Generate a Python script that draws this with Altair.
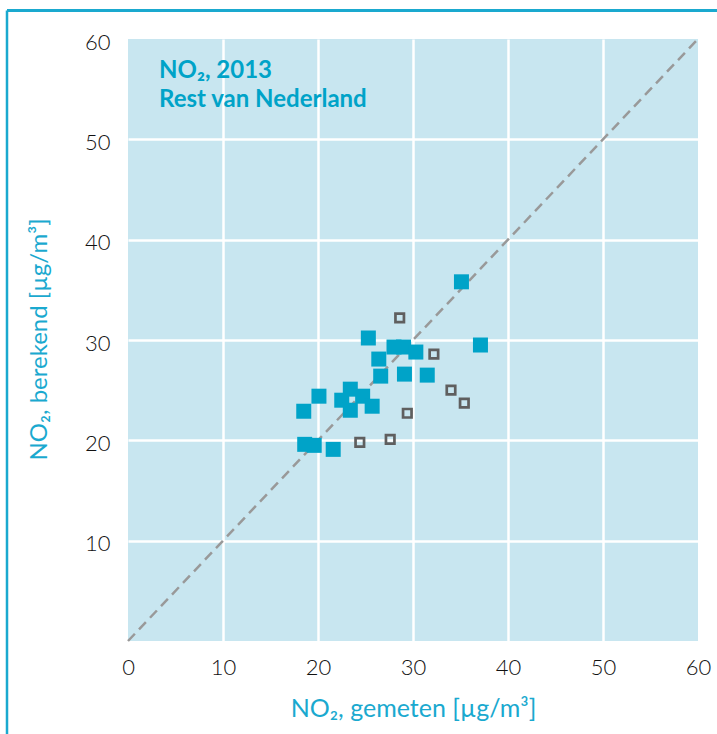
import altair as alt
import pandas as pd

# Measured (gemeten) vs. modelled (berekend) NO2, µg/m3
meas_filled = [35.1, 37.1, 25.3, 28.0, 29.0, 30.3, 26.4, 26.6, 29.1, 31.5,
               23.4, 22.5, 24.7, 23.4, 25.7, 20.1, 18.5, 18.6, 19.6, 21.6]
calc_filled = [35.8, 29.5, 30.2, 29.3, 29.3, 28.8, 28.1, 26.4, 26.6, 26.5,
               25.1, 24.0, 24.4, 23.0, 23.4, 24.4, 22.9, 19.6, 19.5, 19.1]

meas_open = [28.6, 32.2, 34.0, 35.4, 29.4, 24.4, 27.6]
calc_open = [32.2, 28.6, 25.0, 23.7, 22.7, 19.8, 20.1]

diag = [0, 60]
x_ticks = [0, 10, 20, 30, 40, 50, 60]
y_ticks = [10, 20, 30, 40, 50, 60]
title_line1 = "NO\u2082, 2013"
title_line2 = "Rest van Nederland"

TEAL = "#00a3c8"
TEAL_LIGHT = "#1aa9cf"
FONT = "Lato"

filled = pd.DataFrame({"x": meas_filled, "y": calc_filled})
opened = pd.DataFrame({"x": meas_open, "y": calc_open})
line_df = pd.DataFrame({"x": diag, "y": diag})

hide_edges = {"condition": {"test": "datum.value === 0 || datum.value === 60", "value": 0}, "value": 1}

xs = alt.Scale(domain=[0, 60], nice=False, zero=True)
ys = alt.Scale(domain=[0, 60], nice=False, zero=True)

x_axis = alt.Axis(values=x_ticks, title="NO\u2082, gemeten [\u00b5g/m\u00b3]", grid=True,
                  gridColor="white", gridWidth=2.5, gridOpacity=hide_edges,
                  domain=False, ticks=False, labelPadding=16, labelFontSize=22,
                  labelFont=FONT, labelFontWeight=300, labelColor="#111111",
                  labelFlush=False, titleFont=FONT,
                  titleFontSize=25, titleFontWeight="normal", titleColor=TEAL_LIGHT,
                  titleBaseline="alphabetic", titleY=75)
y_axis = alt.Axis(values=y_ticks, title="NO\u2082, berekend [\u00b5g/m\u00b3]", grid=True,
                  gridColor="white", gridWidth=2.5, gridOpacity=hide_edges,
                  domain=False, ticks=False, labelPadding=18, labelFontSize=22,
                  labelOffset=3, labelFont=FONT, labelFontWeight=300, labelColor="#111111",
                  labelFlush=False,
                  titleFont=FONT, titleFontSize=24, titleFontWeight="normal",
                  titleColor=TEAL_LIGHT, titleAngle=270, titleAlign="center",
                  titleBaseline="middle", titleX=-89, titleY=300)

diagonal = alt.Chart(line_df).mark_line(
    color="#999999", strokeWidth=2.5, strokeDash=[10, 6]
).encode(x=alt.X("x:Q", scale=xs, axis=x_axis), y=alt.Y("y:Q", scale=ys, axis=y_axis))

open_pts = alt.Chart(opened).mark_point(
    shape="square", filled=False, size=72, strokeWidth=2.7, color="#5f5f5f", opacity=1
).encode(x="x:Q", y="y:Q")

filled_pts = alt.Chart(filled).mark_point(
    shape="square", filled=True, size=225, color=TEAL, opacity=1, strokeWidth=0
).encode(x="x:Q", y="y:Q")

one = pd.DataFrame({"a": [0]})


def heading(text, ypix):
    return alt.Chart(one).mark_text(
        text=text, font=FONT, fontSize=24, fontWeight="bold", color=TEAL,
        align="left", baseline="alphabetic"
    ).encode(x=alt.value(31), y=alt.value(ypix))


label1 = heading(title_line1, 39)
label2 = heading(title_line2, 68)

# decorative frame around the figure (top and left edges)
frame_top = alt.Chart(one).mark_rule(color=TEAL_LIGHT, strokeWidth=3).encode(
    x=alt.value(-121), x2=alt.value(589), y=alt.value(-28.5)
)
frame_left = alt.Chart(one).mark_rule(color=TEAL_LIGHT, strokeWidth=2.5).encode(
    x=alt.value(-121), y=alt.value(-28.5), y2=alt.value(700)
)

chart = alt.layer(diagonal, open_pts, filled_pts, label1, label2, frame_top, frame_left).properties(
    width=570, height=602,
    background="white",
    autosize=alt.AutoSizeParams(type="none"),
    padding={"left": 128, "top": 39, "right": 19, "bottom": 93},
).configure_view(fill="#c8e6f0", strokeWidth=0)

chart.save("out.html", embed_options={"renderer": "svg", "actions": False})
